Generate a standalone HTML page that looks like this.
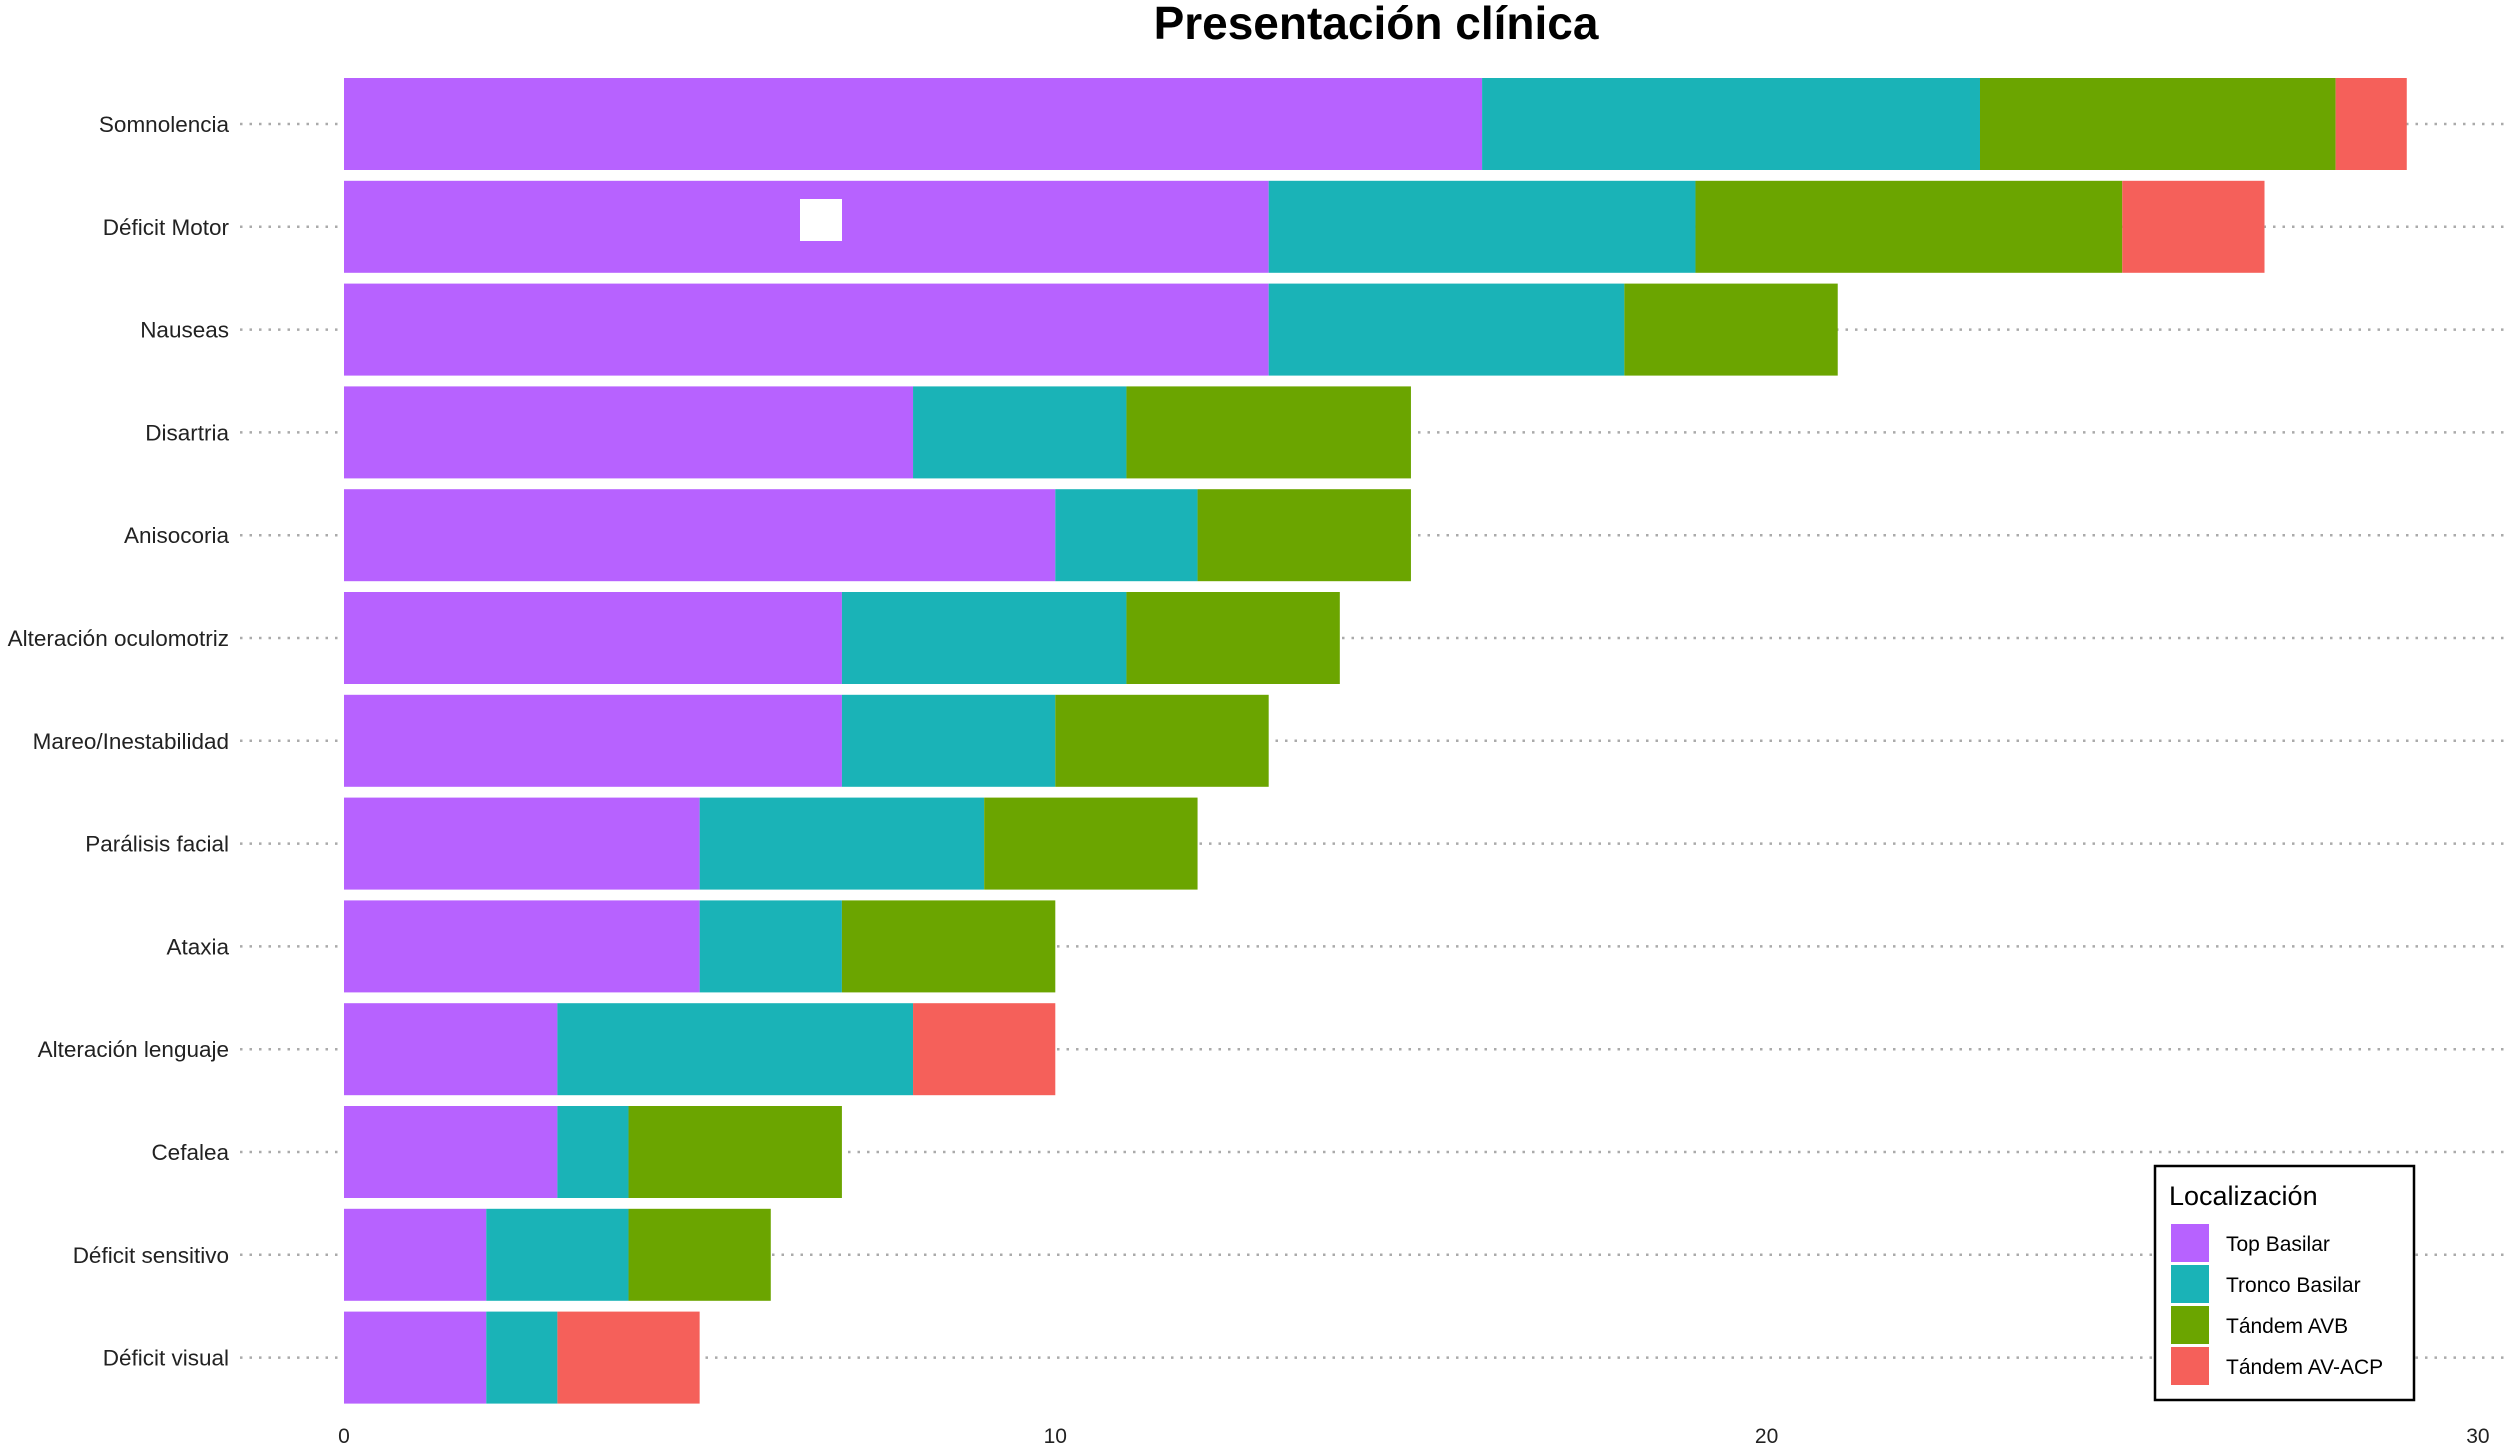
<!DOCTYPE html>
<html><head><meta charset="utf-8"><style>
html,body{margin:0;padding:0;background:#fff;}
svg{display:block;font-family:"Liberation Sans",Arial,sans-serif;}
</style></head><body>
<svg id="chart" width="2508" height="1454" viewBox="0 0 2508 1454" xmlns="http://www.w3.org/2000/svg">
<text x="1376" y="39" text-anchor="middle" font-size="46" font-weight="bold" fill="#000">Presentación clínica</text>
<g id="grid"></g><g id="bars"></g><g id="ylabels"></g><g id="xticks"></g>
<rect x="800" y="199" width="42" height="42" fill="#fff"/>
<g>
<rect x="2155" y="1166" width="259" height="234" fill="#fff" stroke="#000" stroke-width="2.5"/>
<text x="2169" y="1205" font-size="27" fill="#000">Localización</text>
<g id="legend-items"></g>
</g>
</svg>
<script>
const categories=["Somnolencia","Déficit Motor","Nauseas","Disartria","Anisocoria","Alteración oculomotriz","Mareo/Inestabilidad","Parálisis facial","Ataxia","Alteración lenguaje","Cefalea","Déficit sensitivo","Déficit visual"];
const topBasilar=[16,13,13,8,10,7,7,5,5,3,3,2,2];
const troncoBasilar=[7,6,5,3,2,4,3,4,2,5,1,2,1];
const tandemAVB=[5,6,3,4,3,3,3,3,3,0,3,2,0];
const tandemACP=[1,2,0,0,0,0,0,0,0,2,0,0,2];
const seriesNames=["Top Basilar","Tronco Basilar","Tándem AVB","Tándem AV-ACP"];
const xTicks=[0,10,20,30];
const colors=["#b762ff","#1ab3b7","#6ba500","#f5605a"];
const NS="http://www.w3.org/2000/svg";
const x=v=>344+v*71.13;
const y=i=>124+i*102.8;
const bh=92;
function mk(t,a,p){const e=document.createElementNS(NS,t);for(const k in a)e.setAttribute(k,a[k]);p.appendChild(e);return e;}
const grid=document.getElementById('grid'),bars=document.getElementById('bars'),yl=document.getElementById('ylabels'),xt=document.getElementById('xticks');
const series=[topBasilar,troncoBasilar,tandemAVB,tandemACP];
categories.forEach((c,i)=>{
  const g=mk('line',{x1:240,x2:2508,y1:y(i),y2:y(i),stroke:'#aaa','stroke-width':2.5,'stroke-dasharray':'2.5,7'},grid);
  
  
  const t=mk('text',{x:229,y:y(i)+8,'text-anchor':'end','font-size':22.5,fill:'#222'},yl);
  t.textContent=c;
  
  
  let acc=0;
  series.forEach((s,k)=>{
    if(s[i]>0){
      const r=mk('rect',{x:x(acc),y:y(i)-bh/2,width:x(acc+s[i])-x(acc),height:bh,fill:colors[k]},bars);
      
      
    }
    acc+=s[i];
  });
});
xTicks.forEach(v=>{
  const t=mk('text',{x:x(v),y:1443,'text-anchor':'middle','font-size':21,fill:'#222'},xt);
  t.textContent=v;
  
  
});
const li=document.getElementById('legend-items');
seriesNames.forEach((n,k)=>{
  const r=mk('rect',{x:2171,y:1224+k*41,width:38,height:38,fill:colors[k]},li);
  
  
  const t=mk('text',{x:2226,y:1251+k*41,'font-size':21,fill:'#000'},li);
  t.textContent=n;
  
  
});
</script>
</body></html>
